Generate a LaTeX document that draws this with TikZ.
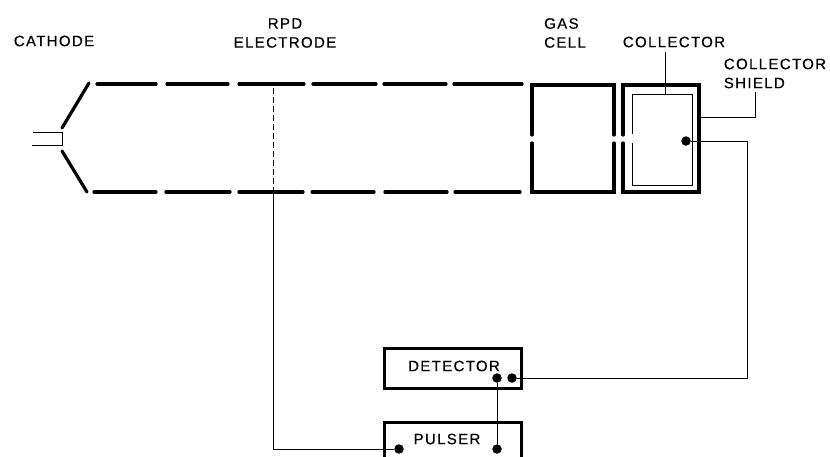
\documentclass[tikz,border=0pt]{standalone}
\usepackage{fontspec}
\setmainfont[LetterSpace=9,FakeBold=0.5]{Liberation Sans}
\usetikzlibrary{positioning}
\begin{document}
\begin{tikzpicture}[x=1pt,y=-1pt,
  electrode/.style={line width=3.2pt, line cap=round},
  unitbox/.style={draw, line width=3pt, minimum width=137pt, minimum height=40pt, inner sep=0pt},
  lead/.style={line width=1pt},
  label/.style={align=left, inner sep=0pt, font=\fontsize{15}{19}\selectfont},
  contact/.style={circle, fill, inner sep=0pt, minimum size=9.5pt}
]
\useasboundingbox (0,0) rectangle (830,456);
\node[label] (cathodelabel) at (54,41) {CATHODE};
\node[label, align=center] (rpdlabel) at (285,33) {RPD\\ELECTRODE};
\node[label] (gaslabel) at (565,33) {GAS\\CELL};
\node[label] (collectorlabel) at (674,42) {COLLECTOR};
\node[label] (shieldlabel) at (775,73.5) {COLLECTOR\\SHIELD};

% cathode
\draw[lead] (33,132.5) -- (62,132.5) -- (62,145) -- (32,145);
\draw[electrode] (62,128) -- (89,83);
\draw[electrode] (62,151) -- (87,192);

% beam electrodes
\foreach \xa/\xb in {97/156,167/228,239/304,313/376,384/446,454/522} {
  \draw[electrode] (\xa,84) -- (\xb,84);
}
\foreach \xa/\xb in {94/156,166/230,239/303,312/374,385/447,455/520} {
  \draw[electrode] (\xa,192) -- (\xb,192);
}

% gas cell
\draw[electrode] (532,135) -- (532,85) -- (614,85) -- (614,135);
\draw[electrode] (532,143) -- (532,192) -- (614,192) -- (614,143);

% collector shield and collector
\draw[electrode] (623,135) -- (623,85) -- (699,85) -- (699,192) -- (623,192) -- (623,143);
\draw[lead] (632,134) -- (632,94) -- (692,94) -- (692,185.5) -- (632,185.5) -- (632,143);

\node[contact] (collectordot) at (686,141) {};
\node[unitbox] (detector) at (452.5,368) {};
\node[label] (detectorlabel) at (454,366) {DETECTOR};
\node[unitbox, minimum height=60pt] (pulser) at (452.5,452) {};
\node[label] (pulserlabel) at (447,439) {PULSER};
\node[contact] (detleft) at (497,378) {};
\node[contact] (detright) at (512,378) {};
\node[contact] (pulleft) at (399,449) {};
\node[contact] (pulright) at (497,449) {};
\coordinate (rpdtop) at (273,88);
\coordinate (rpdbeam) at (273,192);
\coordinate (collectortap) at (665,52);
\coordinate (collectortop) at (665,94);
\coordinate (shieldtap) at (699,117);
\coordinate (shieldend) at (755,92);

\draw[lead, dash pattern=on 6pt off 3pt] (rpdtop) -- (rpdbeam);
\draw[lead] (rpdbeam) |- (pulleft);
\draw[lead] (detleft) -- (pulright);
\draw[lead] (detright) -| (747,141) -- (collectordot);
\draw[lead] (collectortap) -- (collectortop);
\draw[lead] (shieldtap) -| (shieldend);
\end{tikzpicture}
\end{document}
